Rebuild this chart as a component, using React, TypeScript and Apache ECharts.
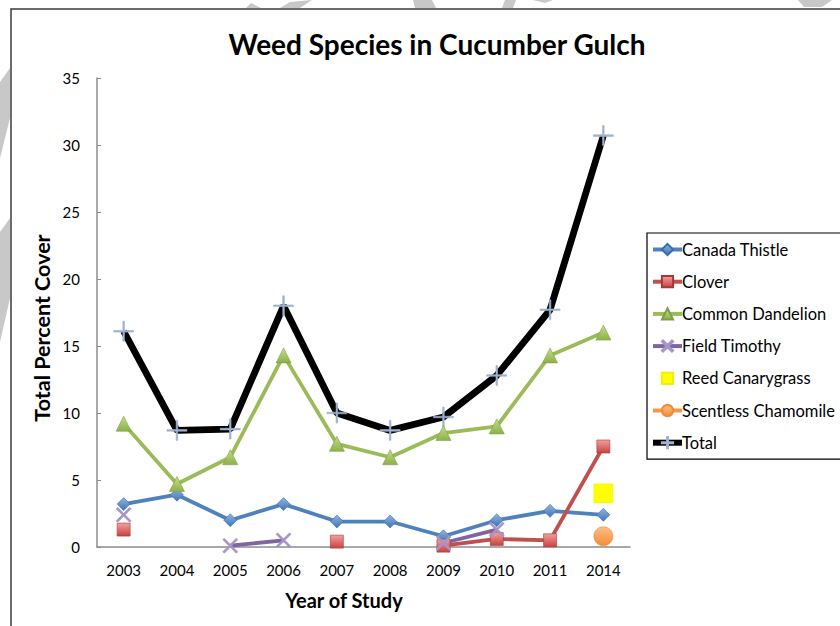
import React, { useEffect, useRef } from "react";
import * as echarts from "echarts";

// Survey years and percent cover per species (null = not recorded)
const years = ["2003", "2004", "2005", "2006", "2007", "2008", "2009", "2010", "2011", "2014"];
const canadaThistle = [3.2, 3.9, 2.0, 3.2, 1.9, 1.9, 0.8, 2.0, 2.7, 2.4];
const clover = [1.3, null, null, null, 0.4, null, 0.1, 0.6, 0.5, 7.5];
const commonDandelion = [9.2, 4.7, 6.7, 14.3, 7.7, 6.7, 8.5, 9.0, 14.3, 16.0];
const fieldTimothy = [2.4, null, 0.1, 0.5, null, null, 0.3, 1.3, null, null];
const reedCanarygrass = [null, null, null, null, null, null, null, null, null, 4.0];
const scentlessChamomile = [null, null, null, null, null, null, null, null, null, 0.8];
const total = [16.1, 8.7, 8.8, 18.0, 10.0, 8.7, 9.7, 12.8, 17.7, 30.7];

const FONT = "Lato, 'Open Sans', sans-serif";

const X_SYMBOL =
  "path://M1,0L5,4L9,0L10,1L6,5L10,9L9,10L5,6L1,10L0,9L4,5L0,1Z";
const PLUS_SYMBOL =
  "path://M4.6,0H5.4V4.6H10V5.4H5.4V10H4.6V5.4H0V4.6H4.6Z";

function grad(top: string, bottom: string) {
  return new echarts.graphic.LinearGradient(0, 0, 0, 1, [
    { offset: 0, color: top },
    { offset: 1, color: bottom },
  ]);
}

// light grey strokes of a watermark sitting behind the chart frame
const wm = (points: number[][]) => ({
  type: "polygon",
  silent: true,
  shape: { points },
  style: { fill: "#c8c8c8" },
});

export default function App() {
  const ref = useRef<HTMLDivElement>(null);

  useEffect(() => {
    if (!ref.current) return;
    const chart = echarts.init(ref.current, null, { renderer: "svg" });

    const lineSeries = (
      name: string,
      data: (number | null)[],
      color: string,
      symbol: string,
      symbolSize: number,
      fill: any,
      border: string,
      width = 3.8
    ) => ({
      name,
      type: "line",
      data,
      symbol,
      symbolSize,
      showSymbol: true,
      connectNulls: false,
      lineStyle: { color, width },
      itemStyle: { color: fill, borderColor: border, borderWidth: 0.6 },
      z: 3,
    });

    const legendItem = (name: string, width: number) => ({
      name,
      lineStyle: { width },
    });

    chart.setOption({
      animation: false,
      backgroundColor: "#ffffff",
      textStyle: { fontFamily: FONT },
      grid: { left: 97, right: 210, top: 78, bottom: 79 },
      xAxis: {
        type: "category",
        data: years,
        boundaryGap: true,
        axisLine: { lineStyle: { color: "#8c8c8c", width: 1.5 } },
        axisTick: { inside: true, length: 6, lineStyle: { color: "#8c8c8c" } },
        axisLabel: { color: "#000", fontSize: 15, margin: 15, fontFamily: FONT },
        splitLine: { show: false },
      },
      yAxis: {
        type: "value",
        min: 0,
        max: 35,
        interval: 5,
        axisLine: { show: true, lineStyle: { color: "#8c8c8c", width: 1.5 } },
        axisTick: { show: true, inside: true, length: 4, lineStyle: { color: "#8c8c8c" } },
        axisLabel: { color: "#000", fontSize: 15, margin: 17, fontFamily: FONT },
        splitLine: { show: false },
      },
      legend: {
        orient: "vertical",
        left: 647,
        top: 233,
        padding: [8, 14, 8, 3],
        itemWidth: 29,
        itemHeight: 14,
        itemGap: 15.2,
        borderColor: "#000",
        borderWidth: 1.2,
        backgroundColor: "#fff",
        textStyle: { color: "#000", fontSize: 16.5, fontFamily: FONT, padding: [0, 0, 0, -5] },
        data: [
          legendItem("Canada Thistle", 4),
          legendItem("Clover", 4),
          legendItem("Common Dandelion", 4),
          legendItem("Field Timothy", 4),
          "Reed Canarygrass",
          legendItem("Scentless Chamomile", 4),
          legendItem("Total", 6),
        ],
      },
      graphic: [
        wm([[0, 82], [10, 68], [10, 118], [0, 158]]),
        wm([[0, 232], [10, 218], [10, 298], [0, 342]]),
        wm([[246, 8], [251, 3], [261, 8]]),
        wm([[280, 8], [290, 2], [312, 0], [300, 8]]),
        wm([[413, 0], [432, 0], [436, 8], [415, 8]]),
        wm([[505, 0], [516, 0], [513, 8], [502, 8]]),
        wm([[533, 0], [553, 0], [545, 3]]),
        wm([[798, 0], [832, 0], [822, 7], [804, 7]]),
        // chart frame
        {
          type: "rect",
          silent: true,
          shape: { x: 11, y: 9, width: 900, height: 700 },
          style: { fill: "none", stroke: "#3c3c3c", lineWidth: 1.5 },
        },
        {
          type: "text",
          x: 437,
          y: 44,
          style: {
            text: "Weed Species in Cucumber Gulch",
            fontSize: 28,
            fontWeight: "bold",
            fontFamily: FONT,
            fill: "#000",
            align: "center",
            verticalAlign: "middle",
          },
        },
        {
          type: "text",
          x: 42,
          y: 328,
          rotation: Math.PI / 2,
          style: {
            text: "Total Percent Cover",
            fontSize: 21.5,
            fontWeight: "bold",
            fontFamily: FONT,
            fill: "#000",
            align: "center",
            verticalAlign: "middle",
          },
        },
        {
          type: "text",
          x: 344,
          y: 600,
          style: {
            text: "Year of Study",
            fontSize: 20,
            fontWeight: "bold",
            fontFamily: FONT,
            fill: "#000",
            align: "center",
            verticalAlign: "middle",
          },
        },
      ],
      series: [
        lineSeries("Canada Thistle", canadaThistle, "#4f81bd", "diamond", 13, grad("#8fb4e3", "#3f75b5"), "#3a6ea8"),
        lineSeries("Clover", clover, "#c0504d", "rect", 13, grad("#f2a09d", "#c9423f"), "#a33a37"),
        lineSeries("Common Dandelion", commonDandelion, "#9bbb59", "triangle", 15, grad("#c4dd8f", "#8cb146"), "#7f9f45"),
        lineSeries("Field Timothy", fieldTimothy, "#8064a2", X_SYMBOL, 15, "#a694c4", "#a694c4"),
        {
          ...lineSeries("Reed Canarygrass", reedCanarygrass, "#ffff00", "rect", 19, "#ffff00", "#f0f000", 0),
          lineStyle: { width: 0, opacity: 0 },
        },
        lineSeries("Scentless Chamomile", scentlessChamomile, "#f79646", "circle", 19, grad("#fbbf87", "#f48c3a"), "#f08a3a"),
        {
          ...lineSeries("Total", total, "#000000", PLUS_SYMBOL, 20, "#9fb2cf", "#9fb2cf", 6.8),
          z: 2,
        },
      ],
    });

    return () => chart.dispose();
  }, []);

  return (
    <div
      ref={ref}
      style={{ position: "fixed", left: 0, top: 0, width: 840, height: 626, background: "#fff" }}
    />
  );
}
